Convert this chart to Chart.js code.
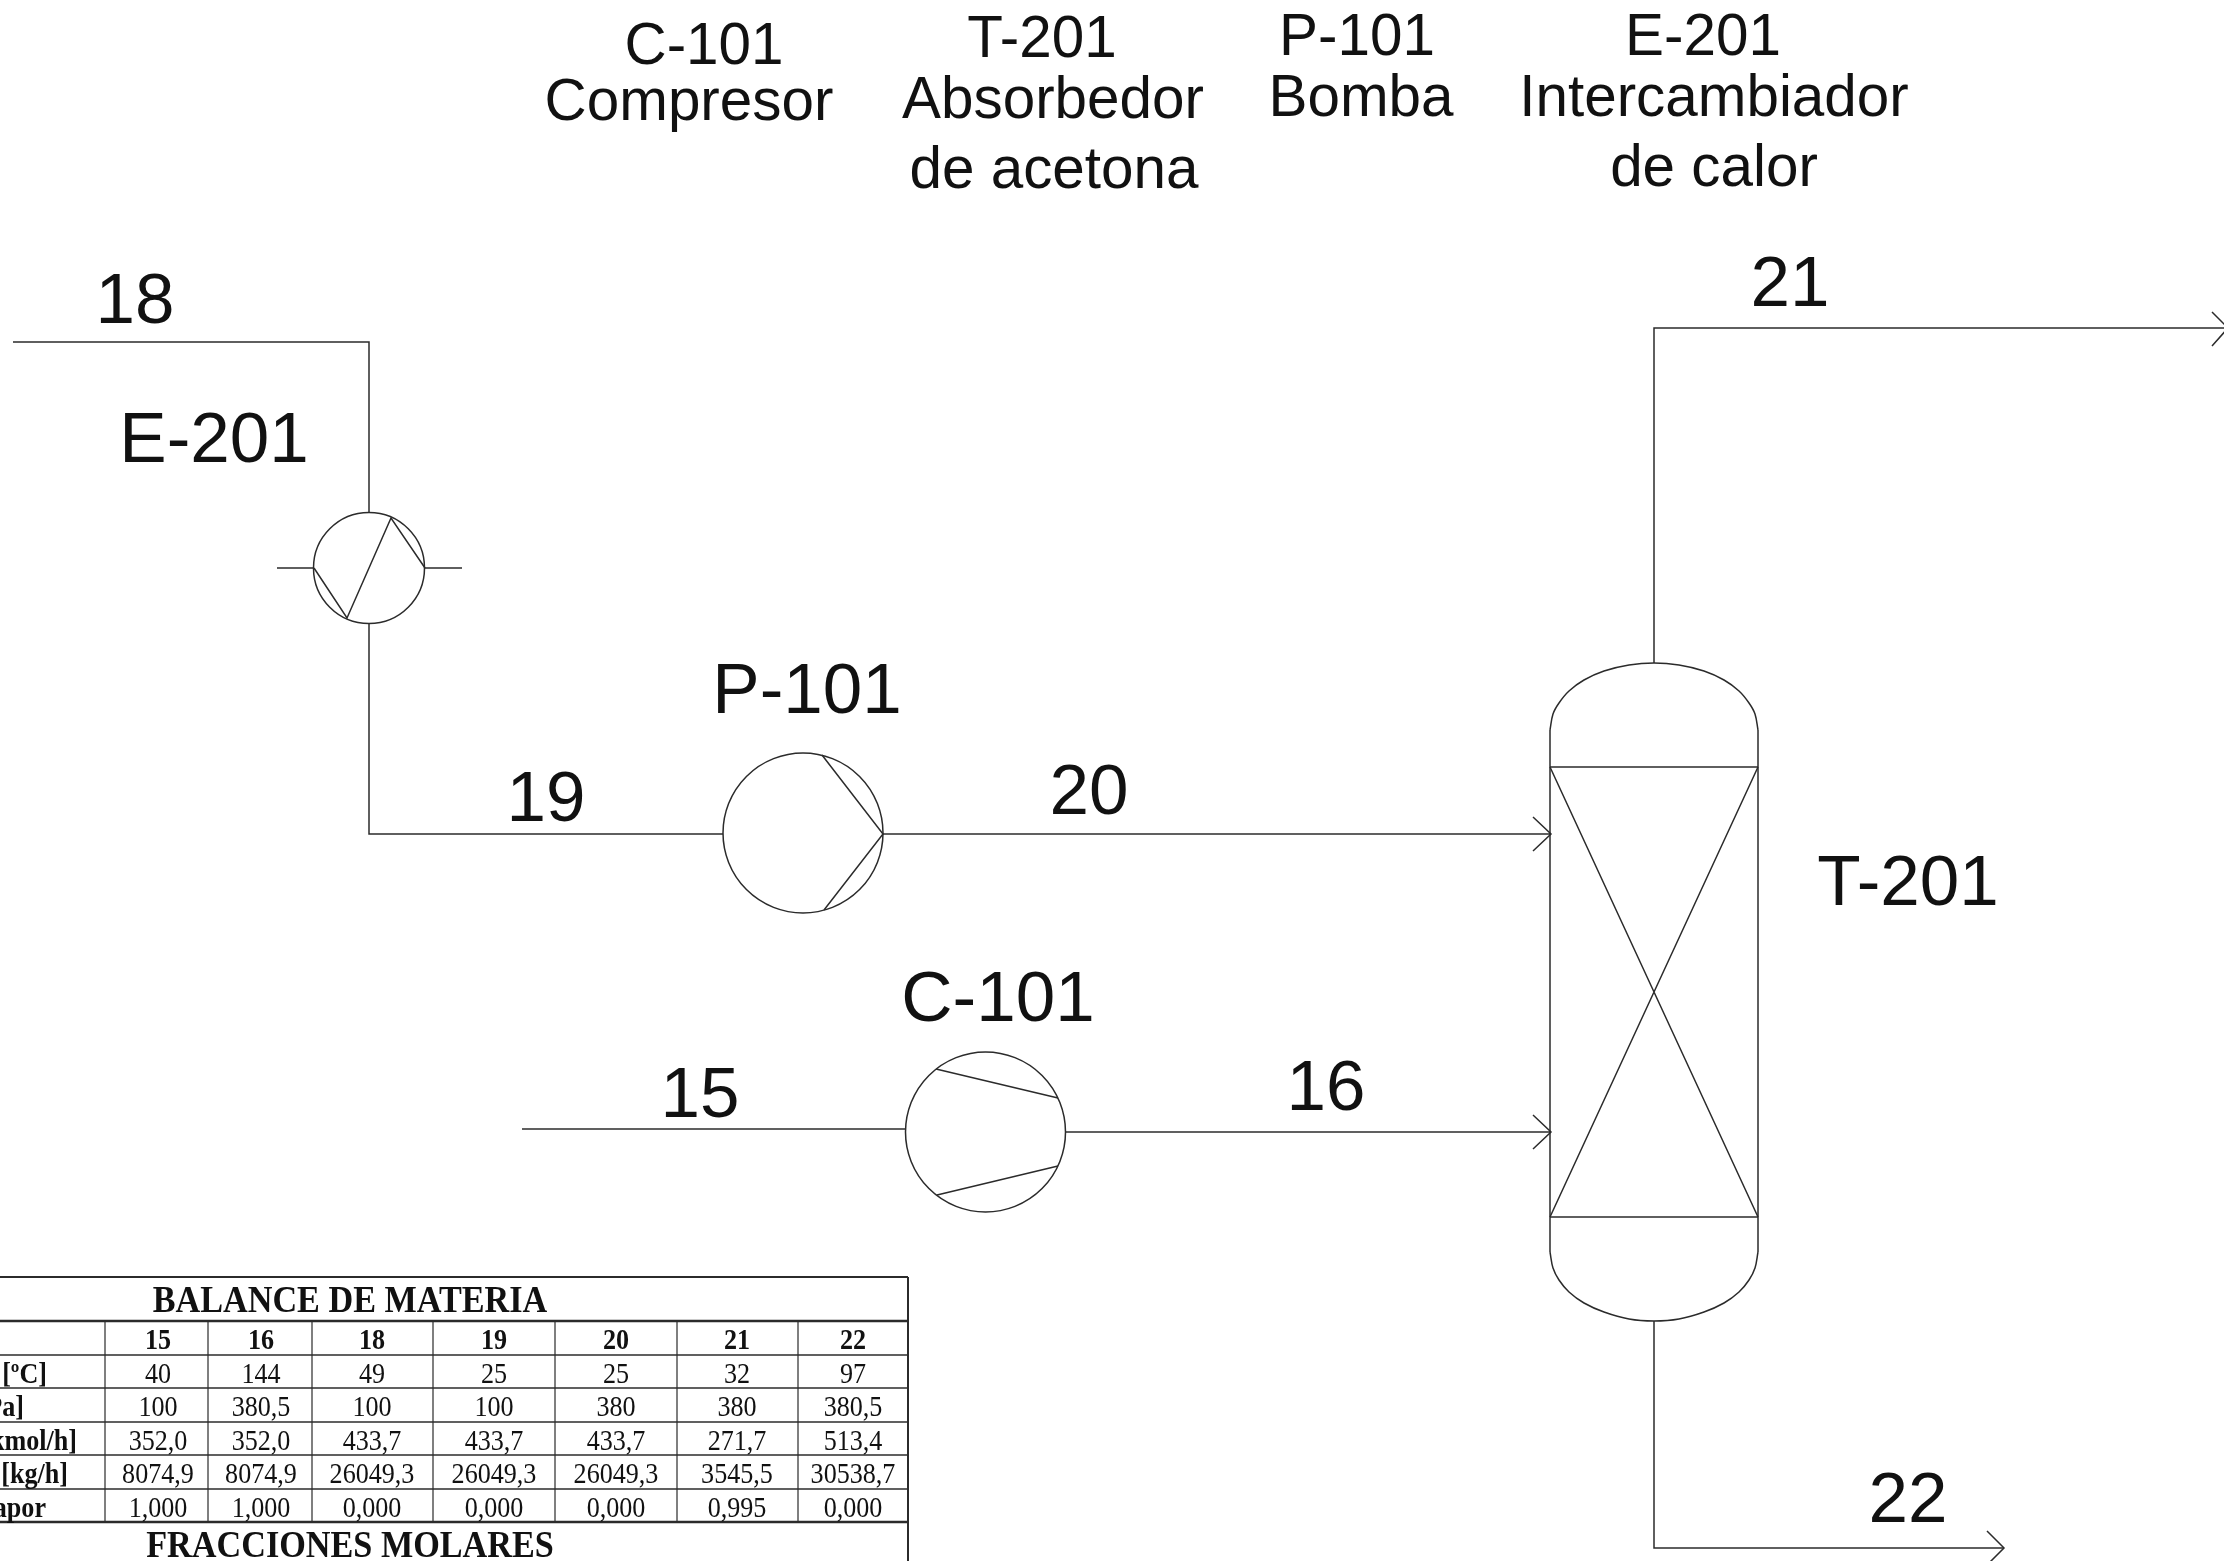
<!DOCTYPE html>
<html>
<head>
<meta charset="utf-8">
<title>Balance de materia</title>
<script src="https://cdn.jsdelivr.net/npm/chart.js@4"></script>
<style>
    html, body { margin: 0; padding: 0; background: #ffffff; }
    #wrap { width: 2224px; height: 1561px; overflow: hidden; }
</style>
</head>
<body>
<div id="wrap"><canvas id="pfd" width="2224" height="1561"></canvas></div>
<script>
// Streams and equipment outlines, in drawing units
const stream18 = [[13, 342], [369, 342], [369, 513]];
const stream19 = [[369, 624], [369, 834], [723, 834]];
const stream20 = [[883, 834], [1551, 834]];
const stream15 = [[522, 1129], [905, 1129]];
const stream16 = [[1066, 1132], [1551, 1132]];
const stream21 = [[1654, 663], [1654, 328], [2228, 328]];
const stream22 = [[1654, 1321], [1654, 1548], [2004, 1548]];
const arrow20 = [[1533, 817], [1551, 834], [1533, 851]];
const arrow16 = [[1533, 1115], [1551, 1132], [1533, 1149]];
const arrow21 = [[2212, 312], [2228, 328], [2212, 346]];
const arrow22 = [[1987, 1531], [2004, 1548], [1987, 1565]];

const exchangerStubs = [[277, 568], [314, 568], null, [425, 568], [462, 568]];
const exchangerInner = [[314, 568], [347, 618], [391, 518], [425, 568]];
const pumpInner = [[822, 755], [883, 834], [824, 910]];
const compressorTop = [[936, 1069], [1058, 1098]];
const compressorBottom = [[937, 1195], [1058, 1166]];

const towerLeft = [[1550, 730], [1550, 1252]];
const towerRight = [[1758, 730], [1758, 1252]];
const towerBands = [[1550, 767], [1758, 767], null, [1550, 1217], [1758, 1217]];
const towerCross = [[1550, 767], [1758, 1217], null, [1758, 767], [1550, 1217]];
const towerDome = [[1550, 730], [1553, 714], [1559, 703], [1569, 691], [1584, 680], [1604, 671], [1629, 665], [1654, 663], [1679, 665], [1704, 671], [1724, 680], [1739, 691], [1749, 703], [1755, 714], [1758, 730]];
const towerSump = [[1550, 1252], [1553, 1268], [1559, 1280], [1569, 1292], [1584, 1303], [1604, 1312], [1629, 1319], [1654, 1321], [1679, 1319], [1704, 1312], [1724, 1303], [1739, 1292], [1749, 1280], [1755, 1268], [1758, 1252]];

const equipmentCircles = [
    { x: 369, y: 568, r: 55.5 },
    { x: 803, y: 833, r: 80 },
    { x: 985.5, y: 1132, r: 80 }
];

const tableColumns = [105, 208, 312, 433, 555, 677, 798];
const tableCenters = [158, 261, 372, 494, 616, 737, 853];
const tableRows = [1321, 1355, 1388, 1422, 1455, 1489];
const tableTop = 1277;
const tableHeavy = 1522;
const tableBottom = 1561;
const tableRight = 908;

// Table contents
const streamNumbers = ['15', '16', '18', '19', '20', '21', '22'];
const rowTemperature = ['40', '144', '49', '25', '25', '32', '97'];
const rowPressure = ['100', '380,5', '100', '100', '380', '380', '380,5'];
const rowMolarFlow = ['352,0', '352,0', '433,7', '433,7', '433,7', '271,7', '513,4'];
const rowMassFlow = ['8074,9', '8074,9', '26049,3', '26049,3', '26049,3', '3545,5', '30538,7'];
const rowVapor = ['1,000', '1,000', '0,000', '0,000', '0,000', '0,995', '0,000'];
const rowHeaders = ['[ºC]', 'Pa]', 'kmol/h]', '[kg/h]', 'apor'];
const rowHeaderRight = [47, 24, 77, 68, 46];
const tableBaselines = [1349, 1383, 1416, 1450, 1483, 1517];
const tableTitles = ['BALANCE DE MATERIA', 'FRACCIONES MOLARES'];
const tableTitleX = [350, 350];
const tableTitleY = [1312, 1557];

// Diagram labels
const legendText = ['C-101', 'Compresor', 'T-201', 'Absorbedor', 'de acetona', 'P-101', 'Bomba', 'E-201', 'Intercambiador', 'de calor'];
const legendX = [704, 689, 1042, 1053, 1054, 1357, 1361, 1703, 1714, 1714];
const legendY = [64, 120, 57, 118, 188, 55, 116, 55, 116, 186];
const tagText = ['18', 'E-201', '19', 'P-101', '20', '21', 'T-201', 'C-101', '15', '16', '22'];
const tagX = [135, 214, 546, 807, 1089, 1790, 1908, 998, 700, 1326, 1908];
const tagY = [323, 462, 821, 713, 814, 306, 905, 1021, 1117, 1110, 1522];

const INK = '#2b2b2b';

function toPoints(list) {
    return list.map(p => p ? { x: p[0], y: p[1] } : { x: NaN, y: NaN });
}

function lineSet(list, width, tension) {
    return {
        type: 'scatter',
        data: toPoints(list),
        showLine: true,
        spanGaps: false,
        borderColor: INK,
        borderWidth: width || 1.5,
        tension: tension || 0,
        pointRadius: 0,
        pointHoverRadius: 0
    };
}

// Table rules are plain line segments too
function tableRules() {
    const sets = [];
    tableRows.forEach((y, i) => {
        sets.push(lineSet([[0, y], [tableRight, y]], i === 0 ? 2.5 : 1.5));
    });
    sets.push(lineSet([[0, tableTop], [tableRight, tableTop]], 2));
    sets.push(lineSet([[0, tableHeavy], [tableRight, tableHeavy]], 2.5));
    sets.push(lineSet([[tableRight, tableTop], [tableRight, tableBottom]], 2));
    tableColumns.forEach(x => {
        sets.push(lineSet([[x, tableRows[0]], [x, tableHeavy]], 1.2));
    });
    return sets;
}

const diagramText = {
    id: 'diagramText',
    afterDatasetsDraw(chart) {
        const c = chart.ctx;
        const sx = chart.scales.x;
        const sy = chart.scales.y;
        const put = (text, x, y) => c.fillText(text, sx.getPixelForValue(x), sy.getPixelForValue(y));
        // the table type in the scan is a bit narrower than plain Times
        const putNarrow = (text, x, y) => {
            c.save();
            c.translate(sx.getPixelForValue(x), sy.getPixelForValue(y));
            c.scale(0.9, 1);
            c.fillText(text, 0, 0);
            c.restore();
        };

        c.save();
        c.fillStyle = '#111111';
        c.textAlign = 'center';
        c.textBaseline = 'alphabetic';

        c.font = '58.4px "Liberation Sans"';
        legendText.forEach((t, i) => put(t, legendX[i], legendY[i]));

        c.font = '71px "Liberation Sans"';
        tagText.forEach((t, i) => put(t, tagX[i], tagY[i]));

        c.font = 'bold 38px "Liberation Serif"';
        tableTitles.forEach((t, i) => putNarrow(t, tableTitleX[i], tableTitleY[i]));

        c.font = 'bold 29px "Liberation Serif"';
        streamNumbers.forEach((t, i) => putNarrow(t, tableCenters[i], tableBaselines[0]));

        c.font = '29px "Liberation Serif"';
        [rowTemperature, rowPressure, rowMolarFlow, rowMassFlow, rowVapor].forEach((row, r) => {
            row.forEach((t, i) => putNarrow(t, tableCenters[i], tableBaselines[r + 1]));
        });

        c.font = 'bold 29px "Liberation Serif"';
        c.textAlign = 'right';
        rowHeaders.forEach((t, r) => putNarrow(t, rowHeaderRight[r], tableBaselines[r + 1]));
        c.restore();
    }
};

const pageBackground = {
    id: 'pageBackground',
    beforeDraw(chart) {
        const c = chart.ctx;
        c.save();
        c.fillStyle = '#ffffff';
        c.fillRect(0, 0, chart.width, chart.height);
        c.restore();
    }
};

document.addEventListener('DOMContentLoaded', function() {
    const ctx = document.getElementById('pfd').getContext('2d');

    const datasets = [
        stream18, stream19, stream20, stream15, stream16, stream21, stream22,
        arrow20, arrow16, arrow21, arrow22,
        exchangerStubs, exchangerInner, pumpInner, compressorTop, compressorBottom,
        towerLeft, towerRight, towerBands, towerCross
    ].map(list => lineSet(list));

    datasets.push(lineSet(towerDome, 1.5, 0.35));
    datasets.push(lineSet(towerSump, 1.5, 0.35));
    datasets.push({
        type: 'bubble',
        data: equipmentCircles,
        borderColor: INK,
        borderWidth: 1.5,
        backgroundColor: 'rgba(0, 0, 0, 0)',
        hoverRadius: 0
    });

    new Chart(ctx, {
        type: 'scatter',
        data: { datasets: datasets.concat(tableRules()) },
        options: {
            responsive: false,
            animation: false,
            events: [],
            // bubbles would otherwise pad the area and shrink the drawing
            layout: { padding: 0, autoPadding: false },
            plugins: {
                legend: { display: false },
                title: { display: false },
                tooltip: { enabled: false }
            },
            scales: {
                x: { type: 'linear', min: 0, max: 2224, display: false },
                y: { type: 'linear', min: 0, max: 1561, reverse: true, display: false }
            }
        },
        plugins: [pageBackground, diagramText]
    });
});
</script>
</body>
</html>
